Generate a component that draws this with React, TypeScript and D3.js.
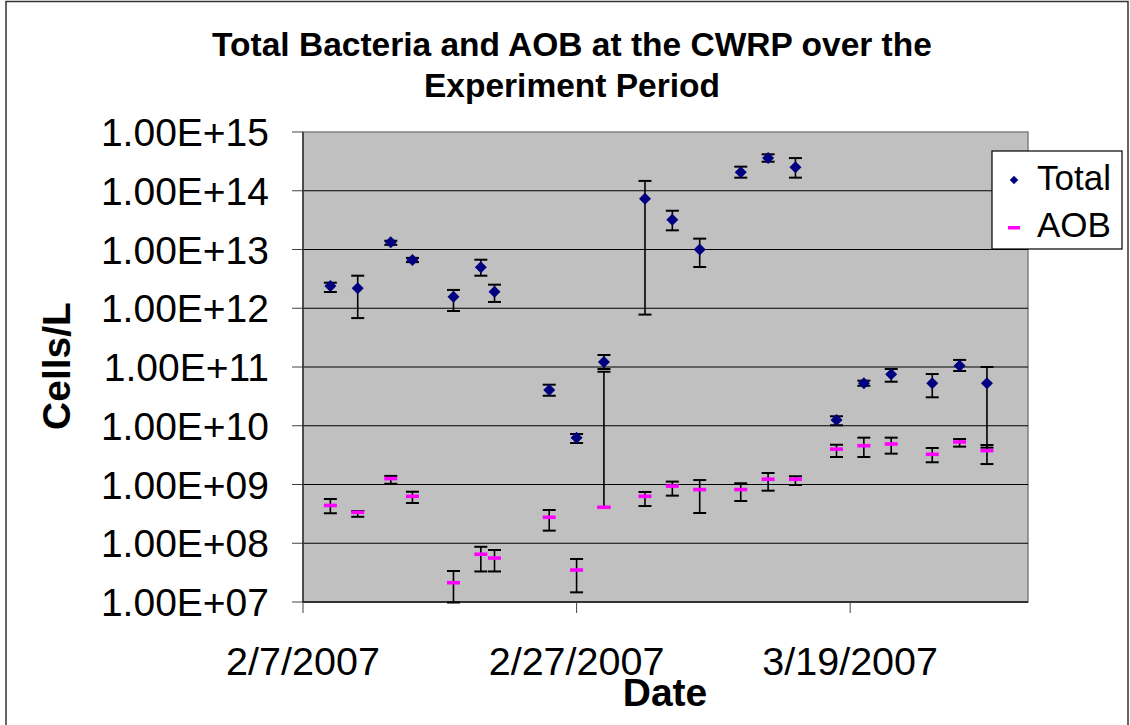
import React from "react";
import * as d3 from "d3";

const dates = [
  "2007-02-09", "2007-02-11", "2007-02-13T10:00", "2007-02-15", "2007-02-18", "2007-02-20", "2007-02-21",
  "2007-02-25", "2007-02-27", "2007-03-01", "2007-03-04", "2007-03-06", "2007-03-08", "2007-03-11",
  "2007-03-13", "2007-03-15", "2007-03-18", "2007-03-20", "2007-03-22", "2007-03-25", "2007-03-27", "2007-03-29",
];

const totalValues = [2.4e12, 2.2e12, 1.33e13, 6.6e12, 1.57e12, 5.0e12, 1.9e12, 4.06e10, 6.27e9, 1.22e11, 7.3e13,
  3.2e13, 1.0e13, 2.06e14, 3.6e14, 2.5e14, 1.25e10, 5.3e10, 7.5e10, 5.3e10, 1.05e11, 5.3e10];
const totalHigh = [2.72e12, 3.58e12, 1.41e13, 7.2e12, 2.05e12, 6.7e12, 2.52e12, 5.0e10, 7.24e9, 1.6e11, 1.47e14,
  4.57e13, 1.53e13, 2.57e14, 4.17e14, 3.6e14, 1.45e10, 5.85e10, 9.25e10, 7.59e10, 1.32e11, 1.0e11];
const totalLow = [1.89e12, 6.8e11, 1.2e13, 6.1e12, 8.97e11, 3.58e12, 1.28e12, 3.24e10, 5.08e9, 9.25e10, 7.8e11,
  2.12e13, 5.04e12, 1.67e14, 3.12e14, 1.67e14, 1.02e10, 4.79e10, 5.62e10, 3.05e10, 8.55e10, 4.24e9];

const aobValues = [4.4e8, 3.36e8, 1.26e9, 6.3e8, 2.13e7, 6.5e7, 5.6e7, 2.77e8, 3.5e7, 4.1e8, 6.3e8,
  9.4e8, 8.2e8, 8.2e8, 1.23e9, 1.23e9, 4.0e9, 4.57e9, 4.9e9, 3.27e9, 5.3e9, 3.77e9];
const aobHigh = [5.66e8, 3.54e8, 1.4e9, 7.53e8, 3.37e7, 8.7e7, 7.67e7, 3.68e8, 5.4e7, 8.3e10, 7.45e8,
  1.12e9, 1.19e9, 1.05e9, 1.57e9, 1.38e9, 4.75e9, 6.27e9, 6.27e9, 4.18e9, 5.94e9, 4.7e9];
const aobLow = [3.24e8, 2.82e8, 1.03e9, 4.84e8, 9.8e6, 3.31e7, 3.31e7, 1.64e8, 1.46e7, 4.1e8, 4.3e8,
  6.46e8, 3.27e8, 5.24e8, 7.85e8, 9.8e8, 2.94e9, 2.94e9, 3.35e9, 2.39e9, 4.41e9, 2.23e9];

const yTicks = [1e7, 1e8, 1e9, 1e10, 1e11, 1e12, 1e13, 1e14, 1e15];
const xTicks = ["2007-02-07", "2007-02-27", "2007-03-19"];
const xTickLabels = ["2/7/2007", "2/27/2007", "3/19/2007"];
const xDomain = ["2007-02-07", "2007-04-01"];
const seriesNames = ["Total", "AOB"];

const FONT = "Arial, 'Liberation Sans', sans-serif";
const parse = (s: string) => new Date(s.length > 10 ? s + ":00Z" : s + "T00:00:00Z");
const fmtY = (v: number) => {
  const e = Math.round(Math.log10(v));
  return `1.00E+${String(e).padStart(2, "0")}`;
};

export default function App() {
  const L = 303, R = 1028, T = 132, B = 602;
  const x = d3.scaleUtc().domain(xDomain.map(parse)).range([L, R]);
  const y = d3.scaleLog().domain([1e7, 1e15]).range([B, T]);
  const cap = 6.5;

  const errBars = (vals: number[], lo: number[], hi: number[], key: string) =>
    vals.map((_, i) => {
      const cx = x(parse(dates[i]));
      const y1 = y(hi[i]);
      const y2 = y(lo[i]);
      return (
        <g key={key + i} stroke="#000" strokeWidth={1.6}>
          <line x1={cx} x2={cx} y1={y1} y2={y2} />
          <line x1={cx - cap} x2={cx + cap} y1={y1} y2={y1} strokeWidth={2} />
          <line x1={cx - cap} x2={cx + cap} y1={y2} y2={y2} strokeWidth={2} />
        </g>
      );
    });

  return (
    <svg width={1130} height={725} style={{ position: "absolute", left: 0, top: 0, background: "#fff" }}>
      <rect x={6} y={1.5} width={1122} height={740} fill="#fff" stroke="#333" strokeWidth={1.5} />
      <text x={572} y={56} textAnchor="middle" fontFamily={FONT} fontWeight="bold" fontSize={33.5}>
        Total Bacteria and AOB at the CWRP over the
      </text>
      <text x={572} y={97} textAnchor="middle" fontFamily={FONT} fontWeight="bold" fontSize={33.5}>
        Experiment Period
      </text>

      <rect x={L} y={T} width={R - L} height={B - T} fill="#C0C0C0" stroke="#808080" strokeWidth={1.5} />
      {yTicks.map((t) => (
        <g key={"g" + t}>
          {t > 1e7 && t < 1e15 && <line x1={L} x2={R} y1={y(t)} y2={y(t)} stroke="#000" strokeWidth={1.2} />}
          <line x1={L - 11} x2={L} y1={y(t)} y2={y(t)} stroke="#444" strokeWidth={1} />
          <text x={269} y={y(t) + 14} textAnchor="end" fontFamily={FONT} fontSize={39}>
            {fmtY(t)}
          </text>
        </g>
      ))}
      <line x1={L} x2={L} y1={T} y2={B} stroke="#333" strokeWidth={1.5} />
      <line x1={L} x2={R} y1={B} y2={B} stroke="#111" strokeWidth={1.5} />
      {xTicks.map((t, i) => (
        <g key={"x" + t}>
          <line x1={x(parse(t))} x2={x(parse(t))} y1={B} y2={B + 11} stroke="#444" strokeWidth={1} />
          <text x={x(parse(t))} y={675} textAnchor="middle" fontFamily={FONT} fontSize={39.5}>
            {xTickLabels[i]}
          </text>
        </g>
      ))}

      {errBars(totalValues, totalLow, totalHigh, "te")}
      {errBars(aobValues, aobLow, aobHigh, "ae")}
      {totalValues.map((v, i) => (
        <path
          key={"t" + i}
          d={d3.symbol().type(d3.symbolSquare).size(72)() as string}
          transform={`translate(${x(parse(dates[i]))},${y(v)}) rotate(45)`}
          fill="#000080"
        />
      ))}
      {aobValues.map((v, i) => (
        <rect key={"a" + i} x={x(parse(dates[i])) - 6.5} y={y(v) - 1.8} width={13} height={3.6} fill="#FF00FF" />
      ))}

      <text transform="translate(70,366) rotate(-90)" textAnchor="middle" fontFamily={FONT} fontWeight="bold" fontSize={39}>
        Cells/L
      </text>
      <text x={665} y={706} textAnchor="middle" fontFamily={FONT} fontWeight="bold" fontSize={39}>
        Date
      </text>

      <rect x={992} y={151} width={130} height={98} fill="#fff" stroke="#000" strokeWidth={1.2} />
      <path d={d3.symbol().type(d3.symbolSquare).size(36)() as string} transform="translate(1014,180) rotate(45)" fill="#000080" />
      <rect x={1008} y={226} width={12} height={3.5} fill="#FF00FF" />
      <text x={1037} y={190} fontFamily={FONT} fontSize={35}>{seriesNames[0]}</text>
      <text x={1037} y={237} fontFamily={FONT} fontSize={35}>{seriesNames[1]}</text>
    </svg>
  );
}
